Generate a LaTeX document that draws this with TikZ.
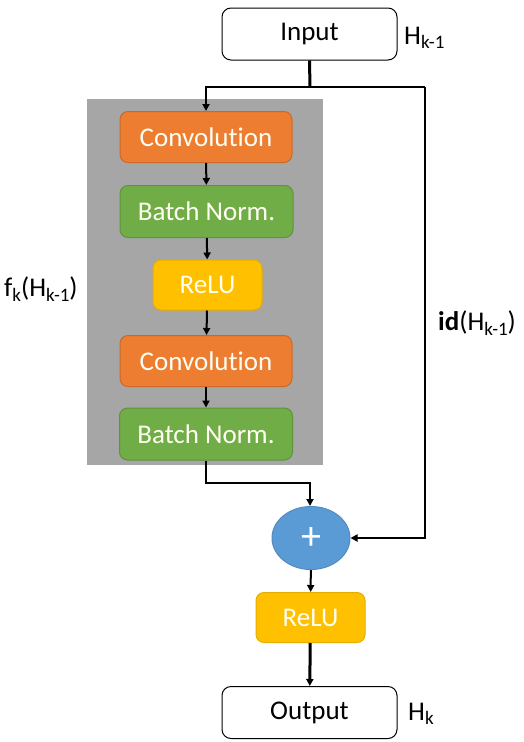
\documentclass[tikz,border=0pt]{standalone}
\usepackage{fontspec}
\setmainfont[Ligatures={NoCommon}]{Carlito}
\usetikzlibrary{arrows.meta,shapes.geometric}
\definecolor{conv}{HTML}{ED7D31}
\definecolor{bn}{HTML}{70AD47}
\definecolor{relu}{HTML}{FFC000}
\definecolor{plus}{HTML}{5B9BD5}
\definecolor{bg}{HTML}{A6A6A6}
\newcommand{\sbs}[1]{\raisebox{-0.35ex}{\fontsize{19}{19}\selectfont #1}}
\begin{document}
\begin{tikzpicture}[x=1pt,y=-1pt,
  every node/.style={font=\fontsize{27}{30}\selectfont, inner sep=0pt},
  iobox/.style={draw=black, line width=1pt, rounded corners=9pt, fill=white, minimum width=175pt, minimum height=52pt},
  blk/.style={rounded corners=8pt, text=white!95!yellow, line width=1pt},
  convbox/.style={blk, fill=conv, draw=conv!85!black, minimum width=172pt, minimum height=51pt},
  bnbox/.style={blk, fill=bn, draw=bn!85!black, minimum width=173pt, minimum height=52pt},
  relubox/.style={blk, fill=relu, draw=relu!90!black, minimum width=109pt, minimum height=50pt},
  con/.style={line width=2pt, -{Triangle[length=7pt,width=7pt]}},
  lbl/.style={anchor=west}
]
\useasboundingbox (0,0) rectangle (524,742);
\fill[bg] (87,99) rectangle (323,465);

\node[iobox] (in) at (309.5,34) {Input};
\node[convbox] (c1) at (206,137) {Convolution};
\node[bnbox] (b1) at (206.5,211.5) {Batch Norm.};
\node[relubox] (r1) at (207.5,285) {ReLU};
\node[convbox] (c2) at (206,361) {Convolution};
\node[bnbox] (b2) at (206,434) {Batch Norm.};
\node[ellipse, fill=plus, draw=plus!90!black, line width=1pt, minimum width=78pt, minimum height=63pt, text=white, font=\fontsize{40}{40}\selectfont] (p) at (311,538) {+};
\node[relubox] (r2) at (310.5,617.5) {ReLU};
\node[iobox] (out) at (309.5,712.5) {Output};

\node[lbl] (hin) at (404,38) {H\sbs{k-1}};
\node[lbl] (hout) at (408,714) {H\sbs{k}};
\node[lbl] (fk) at (4,289) {f\sbs{k}(H\sbs{k-1})};
\node[lbl] (idl) at (438,323) {\textbf{id}(H\sbs{k-1})};

\coordinate (split) at (310,87);
\draw[line width=3pt] (in.south) -- (split);
\draw[con] (split) -| (c1.north);
\draw[line width=2pt] (split) -- (425,87);
\draw[con] (425,87) |- (p.east);
\draw[con] (c1) -- (b1);
\draw[con] (b1) -- (r1);
\draw[con] (r1) -- (c2);
\draw[con] (c2) -- (b2);
\draw[con] (b2.south) |- (310,483) -- (p.north -| 310,0);
\draw[con] (p) -- (r2);
\draw[con, line width=3pt] (r2) -- (out);
\end{tikzpicture}
\end{document}
